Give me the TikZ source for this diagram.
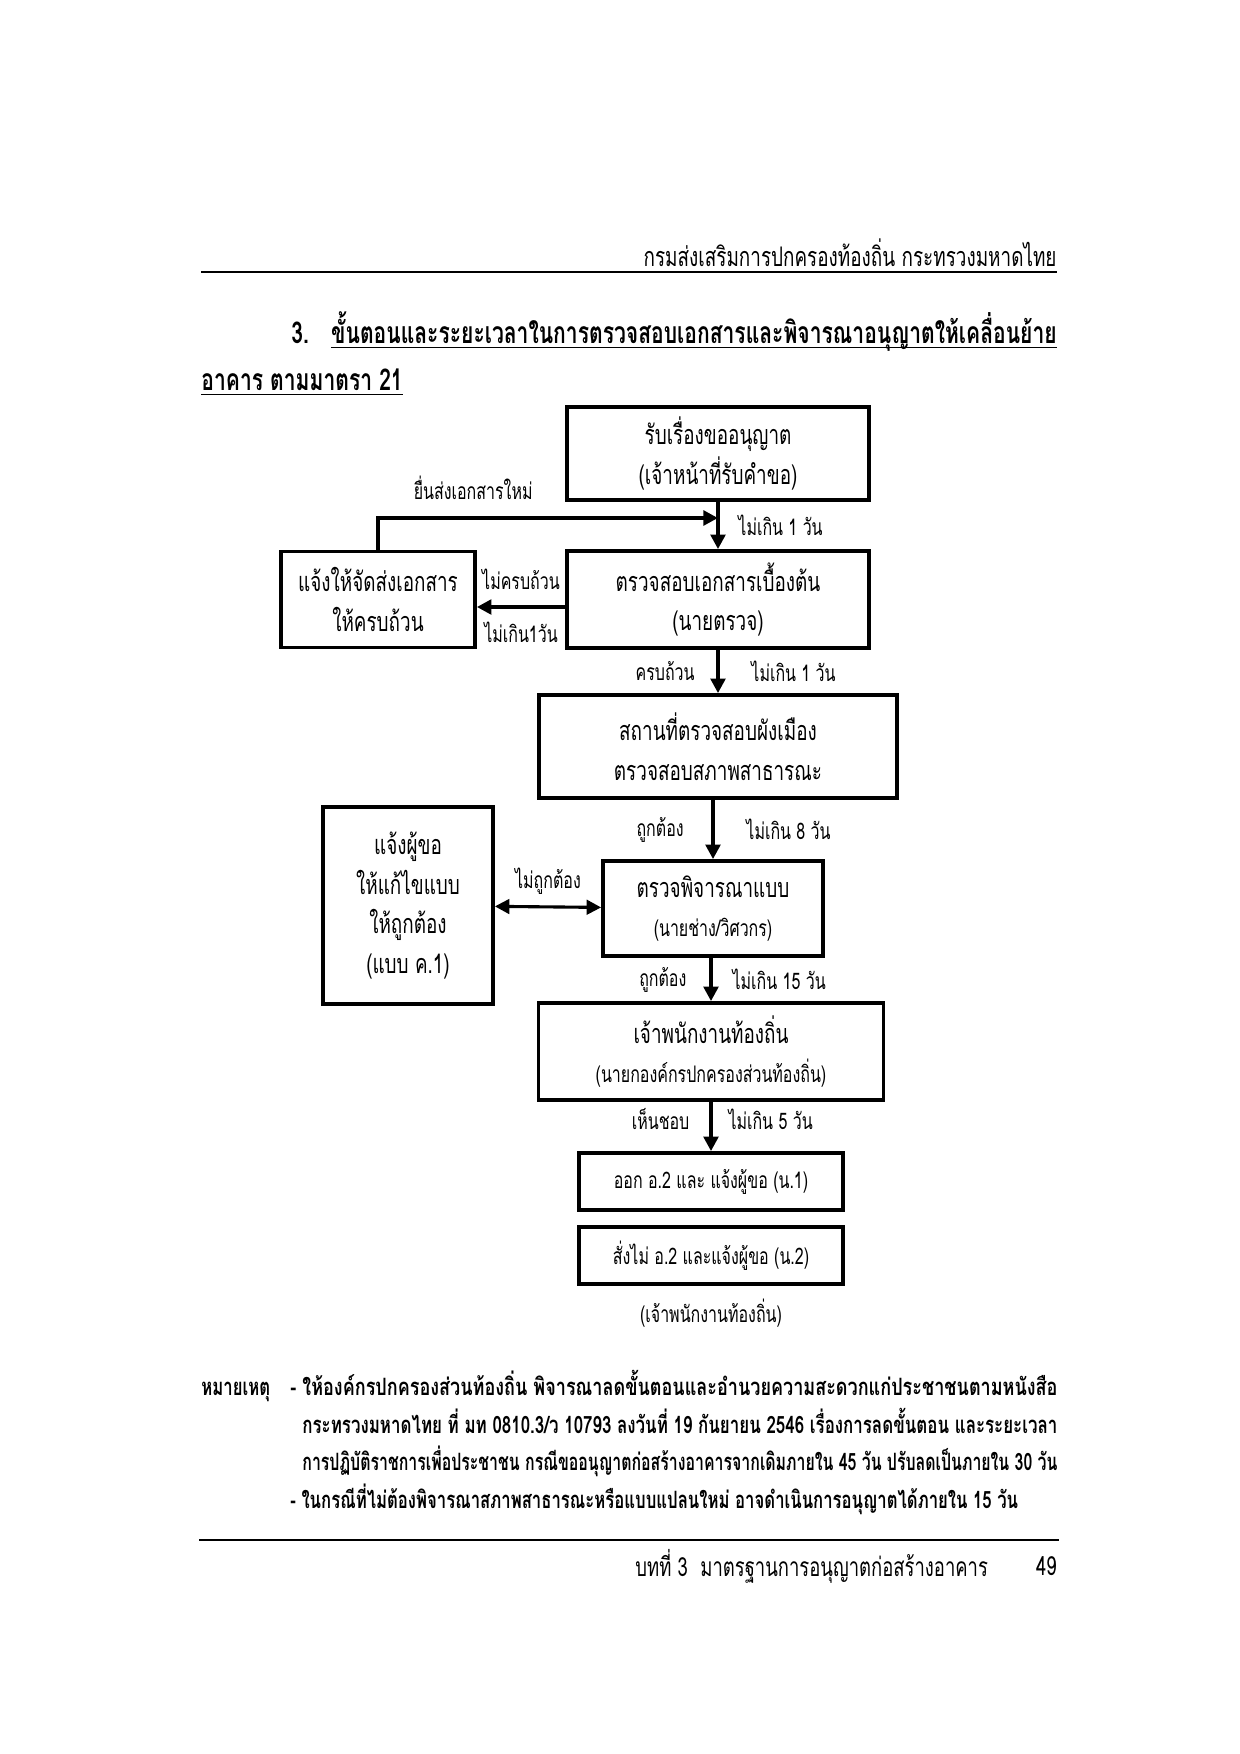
\documentclass[tikz,border=0pt]{standalone}
\usepackage{fontspec}
\setmainfont[Script=Thai, FakeStretch=0.7]{Loma}
\usepackage{graphicx}
\usepackage{tikz}
\usetikzlibrary{arrows.meta, positioning, calc}
\newcommand{\pxu}{0.169355mm}

\begin{document}
\begin{tikzpicture}[x=0.169355mm, y=-0.169355mm, every node/.style={font=\fontsize{13}{19}\selectfont}]
  \tikzstyle{stepbox}=[rectangle, draw=black, line width=1.8pt, align=center, inner sep=0pt, fill=white]
  \tikzstyle{arrow}=[-{Triangle[width=7pt,length=7pt]}, line width=1.8pt]
  \tikzstyle{lbl}=[font=\fontsize{11}{13}\selectfont, inner sep=1pt]
  \tikzstyle{small}=[font=\fontsize{11}{15}\selectfont]
  \tikzstyle{heading}=[inner sep=0pt, font=\bfseries\fontsize{14.5}{19}\selectfont]
  \tikzstyle{note}=[font=\bfseries\fontsize{11.5}{18}\selectfont, inner sep=0pt, anchor=base west]
  \tikzstyle{uline}=[line width=0.9pt]

  \useasboundingbox (0,0) rectangle (1240,1754);

  % header and title
  \node[anchor=east, inner sep=0pt] (dept) at (1057,252.5) {กรมส่งเสริมการปกครองท้องถิ่น กระทรวงมหาดไทย};
  \draw[line width=1pt] (201,272) -- (1057,272);
  \node[heading, anchor=base west] (num) at (291,343.5) {3.};
  \node[heading, anchor=base east] (title) at (1057,343.5) {ขั้นตอนและระยะเวลาในการตรวจสอบเอกสารและพิจารณาอนุญาตให้เคลื่อนย้าย};
  \node[heading, anchor=base west] (title2) at (201,390.5) {อาคาร ตามมาตรา 21};
  \draw[uline] ([yshift=-4*\pxu]title.base west) -- ([yshift=-4*\pxu]title.base east);
  \draw[uline] ([yshift=-4*\pxu]title2.base west) -- ([yshift=-4*\pxu]title2.base east);

  % boxes
  \node[stepbox, minimum width=302*\pxu, minimum height=93*\pxu] (recv) at (718,453.5) {รับเรื่องขออนุญาต\\(เจ้าหน้าที่รับคำขอ)};
  \node[stepbox, minimum width=302*\pxu, minimum height=97*\pxu] (check) at (718,599.5) {ตรวจสอบเอกสารเบื้องต้น\\(นายตรวจ)};
  \node[stepbox, minimum width=194*\pxu, minimum height=96*\pxu] (notify) at (378,599.5) {แจ้งให้จัดส่งเอกสาร\\ให้ครบถ้วน};
  \node[stepbox, minimum width=358*\pxu, minimum height=103*\pxu] (site) at (718,746.5) {สถานที่ตรวจสอบผังเมือง\\ตรวจสอบสภาพสาธารณะ};
  \node[stepbox, minimum width=220*\pxu, minimum height=95*\pxu] (review) at (713,908.5) {ตรวจพิจารณาแบบ\\{\fontsize{11}{15}\selectfont (นายช่าง/วิศวกร)}};
  \node[stepbox, minimum width=170*\pxu, minimum height=197*\pxu] (fix) at (408,905.5) {แจ้งผู้ขอ\\ให้แก้ไขแบบ\\ให้ถูกต้อง\\(แบบ ค.1)};
  \node[stepbox, minimum width=345*\pxu, minimum height=97*\pxu] (officer) at (711,1051.5) {เจ้าพนักงานท้องถิ่น\\{\fontsize{11}{15}\selectfont (นายกองค์กรปกครองส่วนท้องถิ่น)}};
  \node[stepbox, small, minimum width=264*\pxu, minimum height=57*\pxu] (issue) at (711,1181.5) {ออก อ.2 และ แจ้งผู้ขอ (น.1)};
  \node[stepbox, small, minimum width=264*\pxu, minimum height=57*\pxu] (refuse) at (711,1255.5) {สั่งไม่ อ.2 และแจ้งผู้ขอ (น.2)};
  \node[small, below=1mm of refuse] (who) {(เจ้าพนักงานท้องถิ่น)};

  % connectors
  \coordinate (join) at (718,518);
  \draw[arrow] (recv) -- node[lbl, right=2.8mm]{ไม่เกิน 1 วัน} (check);
  \draw[arrow] (notify.north) |- node[lbl, pos=0.64, above=2.5mm]{ยื่นส่งเอกสารใหม่} (join);
  \draw[arrow] ([yshift=-7.5*\pxu]check.west) -- node[lbl, above=2.3mm]{ไม่ครบถ้วน} node[lbl, below=1.9mm]{ไม่เกิน1วัน} ([yshift=-7.5*\pxu]notify.east);
  \draw[arrow] (check) -- node[lbl, left=3.3mm]{ครบถ้วน} node[lbl, right=5mm]{ไม่เกิน 1 วัน} (site);
  \draw[arrow] (site.south -| review.north) -- node[lbl, left=4.3mm]{ถูกต้อง} node[lbl, right=5mm]{ไม่เกิน 8 วัน} (review);
  \draw[{Triangle[width=7pt,length=7pt]}-{Triangle[width=7pt,length=7pt]}, line width=1.5pt] (fix) -- node[lbl, above=1.5mm]{ไม่ถูกต้อง} (review);
  \draw[arrow] (review.south -| officer.north) -- node[lbl, left=3.5mm]{ถูกต้อง} node[lbl, right=3mm]{ไม่เกิน 15 วัน} (officer);
  \draw[arrow] (officer) -- node[lbl, left=3mm, yshift=1.2mm]{เห็นชอบ} node[lbl, right=2.3mm, yshift=1.2mm]{ไม่เกิน 5 วัน} (issue);

  % remarks
  \node[note] (remark) at (201,1395) {หมายเหตุ};
  \node[note] (rem1) at (290,1395) {\resizebox{129.9mm}{\height}{- ให้องค์กรปกครองส่วนท้องถิ่น พิจารณาลดขั้นตอนและอำนวยความสะดวกแก่ประชาชนตามหนังสือ}};
  \node[note] (rem2) at (302,1433) {\resizebox{127.86mm}{\height}{กระทรวงมหาดไทย ที่ มท 0810.3/ว 10793 ลงวันที่ 19 กันยายน 2546 เรื่องการลดขั้นตอน และระยะเวลา}};
  \node[note] (rem3) at (302,1470) {\resizebox{127.86mm}{\height}{การปฏิบัติราชการเพื่อประชาชน กรณีขออนุญาตก่อสร้างอาคารจากเดิมภายใน 45 วัน ปรับลดเป็นภายใน 30 วัน}};
  \node[note] (rem4) at (290,1508) {- ในกรณีที่ไม่ต้องพิจารณาสภาพสาธารณะหรือแบบแปลนใหม่ อาจดำเนินการอนุญาตได้ภายใน 15 วัน};

  % footer
  \draw[line width=1pt] (199,1540) -- (1059,1540);
  \node[anchor=west, inner sep=0pt, font=\fontsize{12.7}{19}\selectfont] (chapter) at (635,1566) {บทที่ 3\ \ มาตรฐานการอนุญาตก่อสร้างอาคาร};
  \node[anchor=east, inner sep=0pt, font=\fontsize{12.7}{19}\selectfont] (page) at (1057,1566) {49};
\end{tikzpicture}
\end{document}
